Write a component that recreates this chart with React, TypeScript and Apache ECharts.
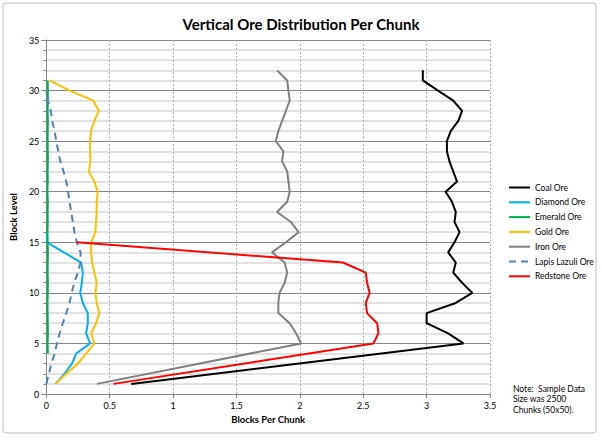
import React, { useEffect, useRef } from 'react';
import * as echarts from 'echarts';

const FONT = 'Lato, "Open Sans", sans-serif';

const xTicks = [0, 0.5, 1, 1.5, 2, 2.5, 3, 3.5];
const yTicks = [0, 5, 10, 15, 20, 25, 30, 35];

const coalLevels = [1, 5, 6, 7, 8, 9, 10, 11, 12, 13, 14, 15, 16, 17, 18, 19, 20, 21, 22, 23, 24, 25, 26, 27, 28, 29, 30, 31, 32];
const coalValues = [0.67, 3.29, 3.17, 3.0, 3.0, 3.23, 3.36, 3.28, 3.21, 3.23, 3.17, 3.22, 3.26, 3.22, 3.23, 3.2, 3.15, 3.24, 3.21, 3.18, 3.16, 3.16, 3.19, 3.25, 3.28, 3.21, 3.09, 2.97, 2.97];

const diamondLevels = [1, 2, 3, 4, 5, 6, 7, 8, 9, 10, 11, 12, 13, 15, 16];
const diamondValues = [0.073, 0.144, 0.202, 0.236, 0.345, 0.314, 0.327, 0.327, 0.288, 0.267, 0.28, 0.288, 0.274, 0.004, 0.004];

const emeraldLevels = [4, 5, 6, 7, 8, 9, 10, 11, 12, 13, 14, 15, 16, 17, 18, 19, 20, 21, 22, 23, 24, 25, 26, 27, 28, 29, 30, 31];
const emeraldValues = [0.012, 0.01, 0.012, 0.011, 0.01, 0.009, 0.011, 0.012, 0.01, 0.011, 0.012, 0.01, 0.009, 0.011, 0.01, 0.012, 0.008, 0.011, 0.01, 0.012, 0.011, 0.01, 0.011, 0.012, 0.01, 0.011, 0.012, 0.01];

const goldLevels = [1, 2, 3, 4, 5, 6, 7, 8, 9, 10, 11, 12, 13, 14, 15, 16, 17, 18, 19, 20, 21, 22, 23, 24, 25, 26, 27, 28, 29, 30, 31];
const goldValues = [0.073, 0.157, 0.248, 0.314, 0.379, 0.353, 0.392, 0.418, 0.397, 0.387, 0.397, 0.379, 0.361, 0.353, 0.353, 0.387, 0.392, 0.397, 0.397, 0.405, 0.379, 0.335, 0.348, 0.345, 0.345, 0.353, 0.379, 0.413, 0.371, 0.183, 0.026];

const ironLevels = [1, 5, 6, 7, 8, 9, 10, 11, 12, 13, 14, 15, 16, 17, 18, 19, 20, 21, 22, 23, 24, 25, 26, 27, 28, 29, 30, 31, 32];
const ironValues = [0.4, 2.01, 1.97, 1.92, 1.83, 1.83, 1.84, 1.88, 1.9, 1.88, 1.78, 1.89, 1.99, 1.93, 1.82, 1.9, 1.92, 1.91, 1.9, 1.86, 1.87, 1.81, 1.83, 1.86, 1.89, 1.92, 1.91, 1.9, 1.82];

const lapisLevels = [1, 2, 3, 4, 5, 6, 7, 8, 9, 10, 11, 12, 13, 14, 15, 16, 17, 18, 19, 20, 21, 22, 23, 24, 25, 26, 27, 28, 29, 30];
const lapisValues = [0.0, 0.02, 0.04, 0.065, 0.084, 0.105, 0.13, 0.157, 0.183, 0.2, 0.22, 0.248, 0.27, 0.27, 0.24, 0.222, 0.209, 0.196, 0.183, 0.172, 0.157, 0.136, 0.11, 0.094, 0.078, 0.065, 0.047, 0.034, 0.013, 0.0];

const redstoneLevels = [1, 5, 6, 7, 8, 9, 10, 11, 12, 13, 15];
const redstoneValues = [0.53, 2.58, 2.62, 2.61, 2.53, 2.52, 2.55, 2.53, 2.52, 2.34, 0.24];

const seriesNames = ['Coal Ore', 'Diamond Ore', 'Emerald Ore', 'Gold Ore', 'Iron Ore', 'Lapis Lazuli Ore', 'Redstone Ore'];
const seriesColors = ['#000000', '#00B0F0', '#00B050', '#FFC000', '#808080', '#4F81BD', '#FF0000'];
const seriesLevels = [coalLevels, diamondLevels, emeraldLevels, goldLevels, ironLevels, lapisLevels, redstoneLevels];
const seriesValues = [coalValues, diamondValues, emeraldValues, goldValues, ironValues, lapisValues, redstoneValues];

const noteLines = ['Note:  Sample Data', 'Size was 2500', 'Chunks (50x50).'];

export default function App() {
  const ref = useRef<HTMLDivElement>(null);
  useEffect(() => {
    document.body.style.margin = '0';
    const chart = echarts.init(ref.current as HTMLDivElement, null, { renderer: 'svg', width: 602, height: 441 });
    const series = seriesNames.map((name, i) => ({
      name,
      type: 'line',
      symbol: 'none',
      data: seriesLevels[i].map((lv, j) => [seriesValues[i][j], lv]),
      lineStyle: {
        color: seriesColors[i],
        width: 2,
        type: name === 'Lapis Lazuli Ore' ? [7, 5] : 'solid',
      },
      itemStyle: { color: seriesColors[i] },
    }));
    chart.setOption({
      animation: false,
      textStyle: { fontFamily: FONT },
      title: {
        text: 'Vertical Ore Distribution Per Chunk',
        left: 'center',
        top: 11,
        textStyle: { fontFamily: FONT, fontSize: 15, fontWeight: 'bold', color: '#000' },
      },
      graphic: [
        {
          type: 'rect',
          shape: { x: 3, y: 3, width: 593, height: 430, r: 3 },
          style: { fill: 'none', stroke: '#BFBFBF', lineWidth: 1 },
          silent: true,
          z: -1,
        },
        ...noteLines.map((t, i) => ({
          type: 'text',
          x: 513,
          y: 384 + i * 10.5,
          style: { text: t, fontFamily: FONT, fontSize: 8.5, fill: '#000' },
        })),
      ],
      legend: {
        orient: 'vertical',
        left: 503,
        top: 178,
        itemWidth: 21,
        itemHeight: 10,
        itemGap: 5.8,
        data: seriesNames,
        itemStyle: { opacity: 0 },
        textStyle: { fontFamily: FONT, fontSize: 8.5, color: '#000' },
      },
      grid: { left: 44, top: 40, width: 446, height: 354 },
      xAxis: {
        type: 'value',
        min: 0,
        max: 3.5,
        interval: 0.5,
        name: 'Blocks Per Chunk',
        nameLocation: 'middle',
        nameGap: 19,
        nameTextStyle: { fontFamily: FONT, fontSize: 9.5, fontWeight: 'bold', color: '#000' },
        axisLine: { show: true, lineStyle: { color: '#868686', width: 1 } },
        axisTick: { show: true, length: 4, lineStyle: { color: '#868686' } },
        axisLabel: {
          fontFamily: FONT,
          fontSize: 9,
          color: '#000',
          margin: 7,
          formatter: (v: number) => (xTicks.includes(v) ? String(v) : ''),
        },
        splitLine: { show: true, lineStyle: { color: '#B0B0B0', type: [2, 2], width: 1 } },
      },
      yAxis: {
        type: 'value',
        min: 0,
        max: 35,
        interval: 5,
        name: 'Block Level',
        nameLocation: 'middle',
        nameGap: 18,
        nameRotate: 90,
        nameTextStyle: { fontFamily: FONT, fontSize: 9.5, fontWeight: 'bold', color: '#000' },
        axisLine: { show: true, lineStyle: { color: '#868686', width: 1 } },
        axisTick: { show: true, length: 5, lineStyle: { color: '#868686' } },
        minorTick: { show: true, splitNumber: 5, length: 3, lineStyle: { color: '#868686' } },
        axisLabel: {
          fontFamily: FONT,
          fontSize: 9,
          color: '#000',
          margin: 7,
          formatter: (v: number) => (yTicks.includes(v) ? String(v) : ''),
        },
        splitLine: { show: true, lineStyle: { color: '#868686', width: 1 } },
        minorSplitLine: { show: true, lineStyle: { color: '#D9D9D9', width: 1.5 } },
      },
      series,
    });
    return () => chart.dispose();
  }, []);
  return <div ref={ref} style={{ width: 602, height: 441 }} />;
}
